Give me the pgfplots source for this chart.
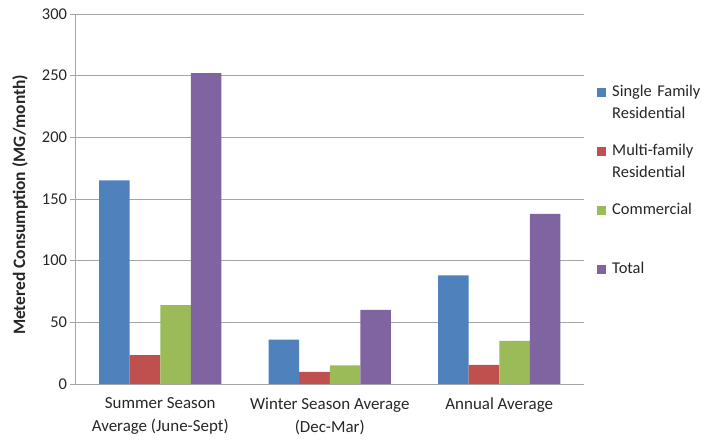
\documentclass[border=0pt]{standalone}
\usepackage{pgfplots}
\pgfplotsset{compat=1.18}
\usepackage{fontspec}
\setmainfont{Carlito}
\definecolor{cSFR}{HTML}{4F81BD}
\definecolor{cMFR}{HTML}{C0504D}
\definecolor{cCom}{HTML}{9BBB59}
\definecolor{cTot}{HTML}{8064A2}
\definecolor{gridc}{HTML}{A6A6A6}
\definecolor{txt}{HTML}{262626}
\begin{document}
\begin{tikzpicture}
\path[use as bounding box] (-75.5bp,-57bp) rectangle (628.5bp,384bp);
\begin{axis}[
  at={(0,0)}, anchor=south west,
  scale only axis, width=508.5bp, height=370bp,
  ybar=0pt, bar width=30.6bp,
  xmin=-0.5, xmax=2.5, ymin=0, ymax=300,
  ytick={0,50,100,150,200,250,300},
  xtick={0,1,2},
  xticklabels={{Summer Season\\Average (June-Sept)},{Winter Season Average\\(Dec-Mar)},{Annual Average}},
  xticklabel style={align=center, font=\fontsize{17}{23}\selectfont, text=txt, yshift=-5bp},
  yticklabel style={font=\fontsize{16.5}{18}\selectfont, text=txt},
  /pgf/number format/assume math mode=true,
  major x tick style={draw=none},
  extra x ticks={-0.5,0.5,1.5,2.5},
  extra x tick labels={},
  extra x tick style={major tick length=5bp, tick align=outside, tick style={draw=gridc, line width=0.8pt}, grid=none},
  ymajorgrids, grid style={draw=gridc, line width=0.8pt},
  y tick style={draw=gridc, line width=0.8pt},
  major tick length=5bp, tick align=outside,
  axis line style={draw=gridc, line width=0.8pt},
  axis x line*=bottom, axis y line*=left,
  ylabel={\bfseries Metered Consumption (MG/month)},
  ylabel style={font=\fontsize{17.5}{20}\selectfont, text=txt, at={(axis description cs:-0.109,0.484)}, anchor=center},
  legend style={draw=none, fill=none, inner sep=0pt, at={(axis description cs:1.0256,0.809)}, anchor=north west,
    font=\fontsize{16.5}{22}\selectfont, text=txt,
    nodes={text width=100bp, align=left, text height=12bp, text depth=30bp, inner sep=0pt},
    row sep=17bp},
  legend cell align=left,
  legend image code/.code={\fill[#1, draw=none] (0bp,9bp) rectangle (9bp,18bp); \path[draw=none] (15bp,9bp) -- (15bp,10bp);},
]
\addplot[fill=cSFR, draw=none] coordinates {(0,165) (1,36) (2,88)};
\addplot[fill=cMFR, draw=none] coordinates {(0,23.5) (1,9.8) (2,15.5)};
\addplot[fill=cCom, draw=none] coordinates {(0,64) (1,15) (2,35)};
\addplot[fill=cTot, draw=none] coordinates {(0,252) (1,60) (2,138)};
\legend{{Single Family\\Residential},{Multi-family\\Residential},Commercial,Total}
\end{axis}
\end{tikzpicture}
\end{document}
